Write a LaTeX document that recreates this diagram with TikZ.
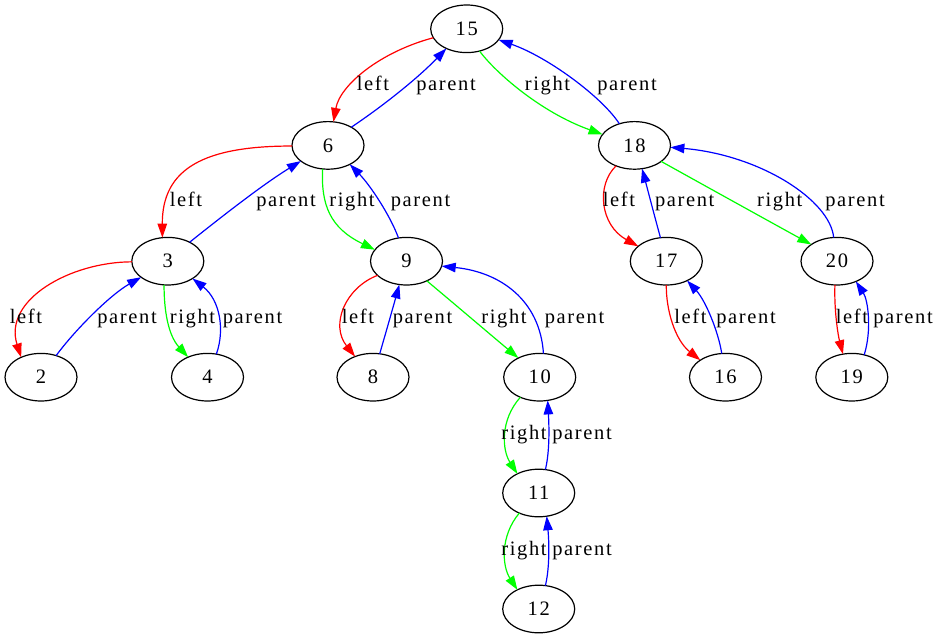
\documentclass[tikz,border=0pt]{standalone}
\usepackage{fontspec}
\setmainfont{Liberation Serif}[LetterSpace=8]
\usetikzlibrary{shapes.geometric,arrows.meta}
\definecolor{lred}{RGB}{255,0,0}
\definecolor{lgreen}{RGB}{0,255,0}
\definecolor{lblue}{RGB}{0,0,255}
\tikzset{
  key/.style={ellipse,draw=black,line width=1.2pt,minimum width=72pt,minimum height=47.6pt,inner sep=0pt,outer sep=0pt,font=\fontsize{20.5}{24}\selectfont},
  lab/.style={anchor=base,inner sep=0pt,font=\fontsize{20.5}{24}\selectfont},
  link/.style={line width=1.2pt,-{Triangle[length=14pt,width=9.5pt]}},
  leftlink/.style={link,draw=lred},
  rightlink/.style={link,draw=lgreen},
  uplink/.style={link,draw=lblue},
}
\begin{document}
\begin{tikzpicture}[x=1pt,y=-1pt]
\useasboundingbox (0,0) rectangle (941,639);
% keys of the tree
\node[key] (n15) at (466.7,28.8) {15};
\node[key] (n6)  at (328,145.4) {6};
\node[key] (n18) at (634.5,145.4) {18};
\node[key] (n3)  at (167.8,261.2) {3};
\node[key] (n9)  at (406.5,261.2) {9};
\node[key] (n17) at (666.3,261.2) {17};
\node[key] (n20) at (837,261.2) {20};
\node[key] (n2)  at (41,377.2) {2};
\node[key] (n4)  at (207.5,377.2) {4};
\node[key] (n8)  at (373,377.2) {8};
\node[key] (n10) at (539.7,377.2) {10};
\node[key] (n16) at (725.5,377.2) {16};
\node[key] (n19) at (851.8,377.2) {19};
\node[key] (n11) at (538.7,493) {11};
\node[key] (n12) at (538.7,609) {12};

% child and parent pointers
\draw[leftlink]  (n15.195) .. controls (380,52) and (340,85) .. (n6.77.4);
\draw[uplink]    (n6.38.3) .. controls (383,106) and (418,78) .. (n15.224.3);
\draw[rightlink] (n15.300.2) .. controls (495,72) and (540,112) .. (n18.161.6);
\draw[uplink]    (n18.125.5) .. controls (602,97) and (548,57) .. (n15.341);

\draw[leftlink]  (n6.181) .. controls (205,146) and (162,168) .. (n3.103.5);
\draw[uplink]    (n3.41.3) .. controls (220,218) and (262,185) .. (n6.210.6);
\draw[rightlink] (n6.257.5) .. controls (321,205) and (330,228) .. (n9.160.4);
\draw[uplink]    (n9.109.2) .. controls (390,215) and (370,185) .. (n6.319.9);

\draw[leftlink]  (n3.181.7) .. controls (70,262) and (3,300) .. (n2.135.7);
\draw[uplink]    (n2.55.9) .. controls (75,330) and (110,295) .. (n3.211);
\draw[rightlink] (n3.261.6) .. controls (164,310) and (168,335) .. (n4.134.6);
\draw[uplink]    (n4.69) .. controls (225,330) and (220,300) .. (n3.325.3);

\draw[leftlink]  (n9.206) .. controls (345,288) and (330,325) .. (n8.131.3);
\draw[uplink]    (n8.74) .. controls (386.7,329.6) and (393.3,306.4) .. (n9.253.6);
\draw[rightlink] (n9.316.8) .. controls (458.3,307.2) and (488.3,332.8) .. (n10.138.6);
\draw[uplink]    (n10.81.4) .. controls (540,300) and (500,272) .. (n9.352.6);

\draw[leftlink]  (n18.228.3) .. controls (596,185) and (600,225) .. (n17.152.6);
\draw[uplink]    (n17.104.8) .. controls (653.9,213.8) and (647.8,190.2) .. (n18.288.7);
\draw[rightlink] (n18.329) .. controls (711.7,189.5) and (761.7,217.2) .. (n20.147.4);
\draw[uplink]    (n20.98.8) .. controls (830,200) and (760,155) .. (n18.357);

\draw[leftlink]  (n17.270) .. controls (666,310) and (675,340) .. (n16.146);
\draw[uplink]    (n16.99) .. controls (718,330) and (705,300) .. (n17.317.3);
\draw[leftlink]  (n20.265) .. controls (834,310) and (838,335) .. (n19.111);
\draw[uplink]    (n19.61.7) .. controls (872,330) and (868,300) .. (n20.313.9);

\draw[rightlink] (n10.226) .. controls (500,420) and (502,450) .. (n11.138.6);
\draw[uplink]    (n11.74.7) .. controls (550,450) and (549,425) .. (n10.289.3);
\draw[rightlink] (n11.226) .. controls (500,536) and (502,566) .. (n12.138.6);
\draw[uplink]    (n12.74.7) .. controls (550,566) and (549,541) .. (n11.289.3);

% pointer labels
\node[lab] (t1)  at (373,91) {left};
\node[lab] (t2)  at (446,91) {parent};
\node[lab] (t3)  at (547.5,91) {right};
\node[lab] (t4)  at (627,91) {parent};

\node[lab] (t5)  at (186,206) {left};
\node[lab] (t6)  at (286,206) {parent};
\node[lab] (t7)  at (352,206) {right};
\node[lab] (t8)  at (420.5,206) {parent};
\node[lab] (t9)  at (619,206) {left};
\node[lab] (t10) at (684.7,206) {parent};
\node[lab] (t11) at (779.7,206) {right};
\node[lab] (t12) at (855,206) {parent};

\node[lab] (t13) at (26,323) {left};
\node[lab] (t14) at (127,323) {parent};
\node[lab] (t15) at (192.5,323) {right};
\node[lab] (t16) at (252.5,323) {parent};
\node[lab] (t17) at (358,323) {left};
\node[lab] (t18) at (422.5,323) {parent};
\node[lab] (t19) at (504,323) {right};
\node[lab] (t20) at (574.5,323) {parent};
\node[lab] (t21) at (690.5,323) {left};
\node[lab] (t22) at (746,323) {parent};
\node[lab] (t23) at (852,323) {left};
\node[lab] (t24) at (903,323) {parent};

\node[lab] (t25) at (524,439) {right};
\node[lab] (t26) at (582,439) {parent};
\node[lab] (t27) at (524,555) {right};
\node[lab] (t28) at (582,555) {parent};
\end{tikzpicture}
\end{document}
